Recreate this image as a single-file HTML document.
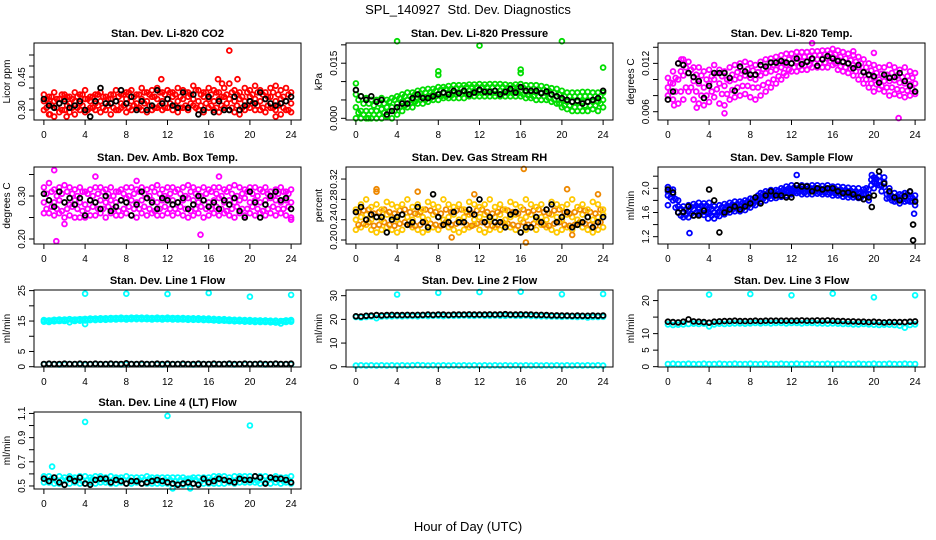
<!DOCTYPE html>
<html><head><meta charset="utf-8">
<style>
html,body{margin:0;padding:0;background:#fff;}
svg{display:block;font-family:"Liberation Sans",Arial,sans-serif;}
.ttl{font-weight:bold;font-size:11px;}
.tk{font-size:10px;}
</style></head>
<body>
<svg id="chart" width="936" height="540" viewBox="0 0 936 540" xmlns="http://www.w3.org/2000/svg">
<text x="468" y="14" text-anchor="middle" font-size="13">SPL_140927&#160; Std. Dev. Diagnostics</text>
<text x="468" y="531" text-anchor="middle" font-size="13">Hour of Day (UTC)</text>
</svg>
<script>
const hours=[0,0.5,1,1.5,2,2.5,3,3.5,4,4.5,5,5.5,6,6.5,7,7.5,8,8.5,9,9.5,10,10.5,11,11.5,12,12.5,13,13.5,14,14.5,15,15.5,16,16.5,17,17.5,18,18.5,19,19.5,20,20.5,21,21.5,22,22.5,23,23.5,24];
const hoursB=[0.25,0.75,1.25,1.75,2.25,2.75,3.25,3.75,4.25,4.75,5.25,5.75,6.25,6.75,7.25,7.75,8.25,8.75,9.25,9.75,10.25,10.75,11.25,11.75,12.25,12.75,13.25,13.75,14.25,14.75,15.25,15.75,16.25,16.75,17.25,17.75,18.25,18.75,19.25,19.75,20.25,20.75,21.25,21.75,22.25,22.75,23.25,23.75];
const xTicks=[0,4,8,12,16,20,24];

// CO2
const co2Lo=[.30,.28,.27,.29,.30,.29,.28,.30,.29,.31,.30,.29,.30,.28,.30,.31,.29,.30,.31,.30,.29,.30,.31,.30,.31,.30,.29,.31,.30,.32,.30,.29,.31,.30,.29,.31,.30,.29,.28,.30,.31,.30,.30,.29,.31,.30,.28,.30,.29];
const co2Mid=[.34,.33,.34,.33,.35,.33,.34,.33,.35,.34,.33,.34,.33,.35,.34,.33,.35,.34,.33,.35,.34,.36,.35,.34,.35,.36,.34,.35,.36,.35,.34,.36,.35,.34,.35,.36,.35,.34,.35,.34,.36,.35,.34,.35,.36,.34,.35,.34,.33];
const co2Hi=[.37,.36,.38,.35,.37,.36,.38,.37,.39,.36,.37,.38,.36,.37,.39,.37,.38,.39,.37,.40,.38,.39,.40,.38,.39,.38,.40,.39,.38,.41,.39,.38,.40,.39,.38,.40,.42,.39,.38,.40,.39,.41,.39,.38,.40,.41,.39,.40,.38];
const co2Q1=[.31,.32,.31,.30,.32,.31,.31,.32,.30,.31,.32,.31,.32,.31,.30,.32,.31,.32,.31,.33,.32,.31,.32,.31,.33,.32,.31,.32,.33,.31,.32,.33,.32,.31,.32,.33,.31,.32,.31,.32,.33,.32,.31,.32,.31,.32,.31,.30];
const co2Q3=[.35,.36,.35,.37,.36,.35,.36,.37,.35,.36,.37,.36,.35,.37,.36,.37,.38,.36,.37,.38,.37,.36,.38,.37,.38,.37,.36,.38,.37,.39,.37,.38,.37,.38,.36,.37,.38,.37,.36,.38,.37,.38,.37,.36,.38,.37,.36,.37];
const co2OutX=[18,11.4,16.9,18.8,17.3,0.6,2.2,22.5];
const co2OutY=[.57,.44,.44,.44,.42,.28,.27,.27];
const co2Black=[.35,.32,.31,.33,.34,.31,.32,.34,.30,.27,.34,.40,.33,.33,.34,.39,.33,.36,.30,.34,.30,.32,.39,.33,.35,.32,.31,.38,.31,.37,.28,.30,.36,.29,.34,.30,.30,.36,.30,.32,.34,.33,.38,.35,.33,.32,.33,.34,.36];

// Pressure
const prLo=[0,0,0,0,0,0,.0005,0,.001,.002,.003,.003,.004,.004,.0045,.005,.005,.0055,.0055,.0055,.0055,.0055,.006,.006,.006,.006,.006,.006,.006,.006,.006,.006,.006,.0055,.0055,.005,.005,.005,.0045,.004,.003,.0025,.002,.002,.002,.002,.0025,.002,.003];
const prMid=[.003,.002,.002,.002,.002,.0025,.003,.003,.004,.0045,.005,.005,.0055,.006,.006,.0065,.0065,.007,.007,.007,.007,.0072,.0075,.0075,.0075,.0075,.0075,.0075,.0075,.0075,.0075,.0075,.0075,.0072,.007,.007,.007,.0068,.0065,.006,.005,.0045,.0045,.0045,.0045,.0045,.0045,.0045,.005];
const prHi=[.0065,.006,.0055,.005,.005,.0055,.005,.0055,.006,.0065,.007,.007,.0075,.0078,.008,.008,.0085,.0085,.0088,.009,.009,.009,.0092,.0092,.0093,.0092,.0093,.0093,.0093,.0092,.009,.0092,.0093,.009,.009,.009,.0088,.0085,.0082,.008,.0075,.007,.007,.007,.0072,.0072,.007,.007,.007];
const prQ1=[.0015,.001,.001,.001,.001,.0015,.002,.002,.003,.0035,.004,.0045,.005,.005,.0055,.006,.006,.006,.0062,.0065,.0065,.0068,.0068,.0068,.0068,.0068,.0068,.0068,.0068,.0068,.0068,.0068,.0065,.0062,.006,.006,.006,.0055,.005,.004,.0035,.0035,.003,.003,.0035,.0035,.0035,.004];
const prQ3=[.005,.004,.004,.0035,.004,.004,.0045,.005,.0055,.006,.006,.0065,.0068,.007,.0072,.0075,.0078,.008,.008,.0082,.0082,.0085,.0085,.0085,.0085,.0085,.0085,.0085,.0085,.0083,.0085,.0085,.0083,.008,.008,.0078,.0078,.0075,.007,.0065,.006,.006,.006,.006,.006,.006,.006,.006];
const prOutX=[0,4,12,20,24,8,8,16,16,1.2];
const prOutY=[.0095,.021,.0198,.021,.0138,.0128,.0118,.0133,.0123,0];
const prBlack=[.0077,.006,.005,.006,.0045,.005,.001,.002,.003,.004,.004,.0055,.0065,.0055,.0055,.006,.0065,.007,.0065,.0075,.0068,.0075,.0065,.007,.0078,.0072,.0072,.0075,.0065,.0072,.008,.007,.0085,.0075,.0075,.0075,.0068,.0073,.0065,.006,.0055,.005,.0045,.0048,.004,.0045,.005,.0055,.0075];

// Temp
const tpLo=[.008,.0075,.007,.0075,.0085,.0075,.007,.0068,.0072,.0078,.007,.0068,.0075,.0078,.008,.0082,.0078,.0075,.008,.0085,.009,.0095,.01,.0105,.011,.011,.0112,.0112,.0115,.0115,.0115,.0115,.0118,.0112,.011,.0108,.0105,.01,.0095,.009,.0085,.0088,.0085,.008,.0082,.008,.0078,.008,.0082];
const tpMid=[.009,.0095,.01,.0105,.0108,.0098,.0095,.009,.0095,.01,.0095,.0092,.0098,.01,.0102,.0105,.0102,.01,.0105,.0108,.011,.0112,.0115,.0118,.012,.0122,.0122,.0123,.0125,.0125,.0126,.0126,.0128,.0125,.0122,.012,.0118,.0115,.011,.0105,.0102,.01,.0098,.0098,.0099,.0096,.0095,.0094,.0095];
const tpHi=[.0102,.011,.012,.0125,.0122,.0115,.0115,.011,.0112,.0118,.0112,.011,.0115,.0118,.012,.0122,.012,.0118,.0122,.0125,.0126,.0128,.013,.0132,.0132,.0134,.0134,.0134,.0135,.0135,.0136,.0136,.0138,.0136,.0134,.0132,.013,.0128,.0125,.012,.0118,.0115,.0115,.0118,.0115,.0112,.0115,.011,.0108];
const tpQ1=[.0085,.0085,.0085,.009,.009,.0085,.008,.008,.0085,.0088,.0082,.0082,.0087,.009,.0092,.0092,.009,.009,.0093,.0096,.01,.0104,.0108,.0112,.0115,.0116,.0117,.0118,.012,.012,.0121,.0123,.012,.0116,.0115,.0113,.011,.0105,.01,.0095,.0094,.0092,.009,.009,.0088,.0087,.0086,.0088];
const tpQ3=[.0096,.0102,.011,.0115,.0112,.0106,.0105,.01,.0104,.0108,.0104,.01,.0106,.0109,.0111,.0113,.0111,.0109,.0113,.0116,.0118,.012,.0122,.0125,.0126,.0128,.0128,.0129,.013,.013,.0131,.0132,.0131,.0128,.0126,.0124,.0122,.012,.0115,.0111,.0108,.0107,.0106,.0108,.0105,.0103,.0104,.0102];
const tpOutX=[22.4,14,18,20,1.3,0.6,5.5,2.8];
const tpOutY=[.0052,.0145,.0135,.0133,.0125,.0068,.0058,.0065];
const tpBlack=[.0075,.0085,.0120,.0118,.0108,.0103,.0098,.0077,.0092,.0108,.0108,.0108,.0102,.0086,.0116,.0110,.0106,.0106,.0118,.0116,.0121,.0121,.0123,.0121,.0120,.0126,.0119,.0122,.0126,.0117,.0125,.0129,.0126,.0123,.0122,.0120,.0114,.0118,.0109,.0106,.0104,.0096,.0106,.0102,.0103,.0108,.0098,.0092,.0085];

// Amb box temp
const abLo=[.26,.26,.255,.26,.25,.255,.25,.25,.25,.255,.255,.26,.25,.26,.255,.255,.26,.255,.25,.26,.255,.26,.255,.255,.26,.255,.26,.255,.25,.255,.26,.25,.255,.26,.255,.26,.255,.25,.26,.255,.26,.255,.26,.255,.26,.255,.26,.255,.25];
const abMid=[.285,.29,.285,.29,.285,.28,.29,.285,.28,.29,.285,.29,.285,.29,.285,.29,.295,.29,.285,.29,.295,.29,.285,.29,.295,.29,.285,.29,.295,.29,.285,.29,.285,.29,.295,.285,.29,.285,.29,.295,.285,.29,.285,.29,.295,.29,.285,.29,.285];
const abHi=[.32,.33,.315,.32,.325,.32,.315,.32,.31,.315,.32,.32,.315,.32,.31,.315,.32,.32,.315,.32,.315,.32,.325,.315,.32,.32,.315,.32,.325,.32,.315,.32,.315,.32,.32,.315,.32,.325,.32,.315,.32,.32,.315,.32,.31,.315,.32,.31,.315];
const abQ1=[.27,.275,.27,.265,.27,.275,.27,.265,.27,.275,.27,.27,.275,.27,.265,.27,.275,.27,.27,.275,.27,.265,.27,.275,.27,.27,.275,.27,.265,.27,.275,.27,.27,.275,.27,.265,.27,.275,.27,.27,.275,.27,.265,.27,.275,.27,.27,.275];
const abQ3=[.305,.31,.30,.305,.31,.305,.30,.31,.305,.30,.305,.31,.305,.30,.31,.305,.30,.305,.31,.305,.30,.31,.305,.30,.305,.31,.305,.30,.31,.305,.30,.305,.31,.305,.30,.31,.305,.30,.305,.31,.305,.30,.31,.305,.30,.305,.31,.305];
const abOutX=[1,1.2,15.2,5,2,9,17,24];
const abOutY=[.36,.195,.21,.345,.235,.335,.345,.245];
const abBlack=[.305,.29,.275,.31,.285,.295,.28,.295,.255,.29,.285,.27,.3,.265,.275,.29,.285,.255,.28,.31,.295,.285,.27,.295,.29,.28,.285,.295,.27,.28,.3,.29,.275,.285,.27,.29,.28,.295,.265,.25,.31,.285,.25,.28,.3,.31,.29,.295,.27];

// RH
const rhLo=[.22,.225,.23,.22,.215,.22,.225,.22,.215,.22,.23,.225,.22,.215,.22,.225,.22,.23,.225,.22,.215,.22,.225,.23,.22,.215,.22,.225,.22,.23,.225,.22,.215,.22,.225,.22,.23,.225,.22,.215,.22,.225,.22,.23,.225,.22,.215,.22,.225];
const rhMid=[.24,.245,.25,.24,.245,.24,.25,.245,.24,.25,.245,.24,.25,.245,.24,.25,.245,.24,.245,.25,.24,.245,.25,.24,.245,.25,.24,.245,.25,.24,.245,.25,.24,.245,.25,.24,.245,.24,.25,.245,.24,.25,.245,.24,.25,.245,.24,.245,.25];
const rhHi=[.26,.27,.28,.265,.27,.26,.275,.27,.265,.27,.28,.265,.27,.26,.275,.27,.265,.28,.27,.265,.27,.26,.275,.27,.265,.27,.28,.265,.27,.26,.275,.27,.265,.28,.27,.265,.27,.26,.275,.27,.265,.27,.28,.265,.27,.26,.275,.27,.26];
const rhQ1=[.23,.232,.235,.228,.23,.235,.23,.228,.232,.235,.23,.228,.23,.235,.232,.23,.228,.235,.23,.232,.235,.23,.228,.232,.235,.23,.228,.23,.235,.232,.23,.228,.235,.23,.232,.235,.23,.228,.232,.235,.23,.228,.23,.235,.232,.23,.228,.235];
const rhQ3=[.255,.258,.26,.252,.255,.26,.255,.252,.258,.26,.255,.252,.255,.26,.258,.255,.252,.26,.255,.258,.26,.255,.252,.258,.26,.255,.252,.255,.26,.258,.255,.252,.26,.255,.258,.26,.255,.252,.258,.26,.255,.252,.255,.26,.258,.255,.252,.26];
const rhOutX=[2,2,6,16.3,11.5,20.5,23.5,16.5,9.3,21];
const rhOutY=[.30,.295,.295,.34,.29,.30,.29,.195,.205,.21];
const rhBlack=[.255,.265,.24,.25,.245,.245,.215,.24,.245,.25,.23,.235,.265,.235,.225,.29,.245,.23,.235,.255,.235,.235,.26,.25,.28,.235,.245,.235,.235,.225,.25,.255,.215,.225,.225,.245,.235,.26,.27,.235,.245,.255,.225,.23,.235,.245,.225,.235,.245];

// Sample flow
const sfLo=[1.88,1.8,1.6,1.52,1.52,1.55,1.58,1.56,1.58,1.5,1.54,1.57,1.6,1.62,1.62,1.64,1.68,1.72,1.78,1.8,1.83,1.84,1.86,1.88,1.9,1.92,1.9,1.9,1.9,1.91,1.9,1.9,1.88,1.88,1.86,1.85,1.85,1.84,1.82,1.8,2.0,2.05,2.02,1.84,1.78,1.75,1.78,1.78,1.72];
const sfMid=[1.95,1.9,1.7,1.6,1.62,1.65,1.68,1.66,1.68,1.6,1.62,1.65,1.68,1.7,1.7,1.72,1.75,1.78,1.85,1.88,1.9,1.9,1.92,1.95,1.97,1.98,1.98,1.97,1.98,1.98,1.97,1.98,1.96,1.96,1.95,1.94,1.93,1.92,1.9,1.9,2.1,2.12,2.1,1.92,1.85,1.82,1.85,1.86,1.8];
const sfHi=[2.02,1.98,1.8,1.7,1.72,1.74,1.76,1.75,1.76,1.7,1.72,1.74,1.76,1.78,1.78,1.8,1.83,1.85,1.92,1.95,1.97,1.97,2.0,2.03,2.05,2.05,2.05,2.04,2.05,2.05,2.04,2.05,2.03,2.03,2.02,2.01,2.0,2.0,1.98,1.98,2.18,2.2,2.18,2.0,1.92,1.9,1.92,1.94,1.88];
const sfQ1=[1.85,1.68,1.55,1.56,1.58,1.6,1.6,1.6,1.55,1.56,1.6,1.62,1.65,1.66,1.67,1.7,1.74,1.8,1.83,1.86,1.87,1.88,1.91,1.93,1.94,1.94,1.93,1.94,1.94,1.93,1.93,1.92,1.91,1.9,1.89,1.88,1.87,1.85,1.9,2.05,2.08,1.95,1.83,1.8,1.8,1.81,1.8,1.78];
const sfQ3=[1.97,1.82,1.66,1.65,1.69,1.71,1.71,1.71,1.66,1.66,1.69,1.71,1.73,1.74,1.76,1.78,1.82,1.88,1.91,1.93,1.94,1.96,1.98,2.0,2.01,2.01,2.0,2.01,2.01,2.0,2.0,1.99,1.99,1.98,1.97,1.96,1.95,1.94,2.0,2.14,2.15,2.04,1.9,1.87,1.87,1.89,1.9,1.84];
const sfOutX=[2.1,3.9,23.9,12.5,19.8,0];
const sfOutY=[1.26,1.5,1.58,2.22,2.22,1.72];
const sfBlack=[1.98,1.93,1.6,1.61,1.7,1.55,1.55,1.63,1.98,1.8,1.27,1.6,1.65,1.7,1.65,1.7,1.75,1.85,1.75,1.88,1.95,1.88,1.88,1.85,1.85,2.05,2.03,2.03,1.95,2.0,1.98,2.0,2.0,1.95,1.92,1.93,1.9,1.85,1.82,1.85,1.88,2.28,2.08,1.95,1.85,1.8,1.87,1.95,1.78];
const sfBlackExX=[23.8,23.8,19.8];
const sfBlackExY=[1.4,1.14,1.69];

// Line 1
const l1Hi=[15.3,15.2,15.4,15.5,15.5,15.6,15.5,15.6,15.7,15.8,15.8,15.9,15.9,16,16,16.1,16,16.1,16.1,16.1,16.1,16,16.1,16,16.1,16,16,16,15.9,15.9,15.9,15.8,15.8,15.7,15.6,15.6,15.5,15.4,15.4,15.3,15.3,15.2,15.2,15.2,15.1,15.1,15.0,15.2,15.3];
const l1Lo=[14.8,14.7,14.9,15,15,14.6,15,15.1,15.2,15.3,15.3,15.4,15.4,15.5,15.5,15.6,15.5,15.6,15.6,15.6,15.6,15.5,15.6,15.5,15.6,15.5,15.5,15.5,15.4,15.4,15.4,15.3,15.3,15.2,15.1,15.1,15,14.9,14.9,14.8,14.8,14.7,14.7,14.7,14.6,14.5,14.2,14.7,14.8];
const l1Mid=[15.0,15.1,15.2,15.2,15.3,15.3,15.4,15.5,15.5,15.6,15.6,15.7,15.7,15.8,15.8,15.8,15.8,15.9,15.9,15.8,15.8,15.8,15.8,15.8,15.8,15.8,15.7,15.7,15.7,15.6,15.6,15.5,15.4,15.4,15.3,15.2,15.2,15.1,15.1,15,15,15,14.9,14.9,14.8,14.7,14.9,15.0];
const l1Base=[0.8,0.9,0.8,0.7,0.8,0.9,0.8,0.8,0.7,0.8,0.9,0.8,0.8,0.9,0.8,0.7,0.8,0.9,0.8,0.8,0.8,0.9,0.8,0.7,0.8,0.8,0.9,0.8,0.8,0.7,0.8,0.9,0.8,0.8,0.8,0.9,0.8,0.7,0.8,0.8,0.9,0.8,0.8,0.7,0.8,0.9,0.8,0.8,0.8];
const l1OutX=[4,8,12,16,20,24,4];
const l1OutY=[24,24,23.9,24.2,23,23.6,14];
const l1Black=[0.9,1.0,0.9,0.9,1.0,0.9,0.9,1.0,0.9,0.9,1.0,0.9,0.9,1.0,0.9,0.9,1.1,0.9,0.9,1.0,0.9,0.9,1.0,0.9,1.0,0.9,0.9,1.0,0.9,0.9,1.0,0.9,0.9,1.0,0.9,0.9,1.0,0.9,0.9,1.0,0.9,0.9,1.0,0.9,0.9,1.0,0.9,0.9,1.0];

// Line 2
const l2Cyan=[21,20.8,21,21.2,20.5,21.2,21.3,21.3,21.4,21.3,21.4,21.4,21.3,21.5,21.4,21.5,21.5,21.4,21.5,21.5,21.5,21.6,21.5,21.5,21.6,21.5,21.5,21.6,21.5,21.5,21.6,21.5,21.5,21.6,21.4,21.4,21.3,21.3,21.2,21.2,21.1,21.2,21.1,21,21.1,20.8,21,21,21.1];
const l2Base=[0.5,0.6,0.5,0.6,0.5,0.6,0.5,0.6,0.5,0.6,0.5,0.6,0.7,0.6,0.5,0.6,0.5,0.6,0.5,0.6,0.5,0.6,0.5,0.6,0.5,0.6,0.5,0.6,0.5,0.6,0.5,0.6,0.5,0.6,0.5,0.6,0.5,0.6,0.5,0.6,0.5,0.6,0.5,0.6,0.5,0.6,0.5,0.6,0.5];
const l2OutX=[4,8,12,16,20,24];
const l2OutY=[30.5,31.2,31.5,31.7,30.6,30.7];
const l2Black=[21.3,21.2,21.5,21.6,21.8,21.7,21.8,21.9,21.8,21.8,21.9,21.8,21.9,21.9,22,21.9,22,22,21.9,22,22,22,22.1,22,22,22,22.1,22,22.1,22.2,22,22,22.1,22,22,21.9,21.9,21.8,21.7,21.7,21.6,21.6,21.5,21.6,21.5,21.5,21.6,21.5,21.6];

// Line 3
const l3Cyan=[12.8,12.6,12.7,12.8,12.9,13,12.9,13,12.2,12.8,13,12.9,13,13.1,13.1,13,13.1,13.2,13.1,13.2,13.1,13.2,13.2,13.1,13.2,13.2,13.1,13.2,13.2,13.1,13.1,13,13.1,13,12.9,12.9,12.8,12.8,12.9,12.8,12.7,12.6,12.7,12.7,12.6,12.4,11.8,12.6,12.8];
const l3Base=[0.8,0.9,0.8,0.8,0.9,0.8,0.8,0.9,0.8,0.8,0.9,0.8,0.8,0.9,0.8,0.8,0.9,0.8,0.8,0.9,0.8,0.8,0.9,0.8,0.8,0.9,0.8,0.8,0.9,0.8,0.8,0.9,0.8,0.8,0.9,0.8,0.8,0.9,0.8,0.8,0.9,0.8,0.8,0.9,0.8,0.8,0.9,0.8,0.8];
const l3OutX=[4,8,12,16,20,24];
const l3OutY=[21.8,22,21.6,22.1,21,21.6];
const l3Black=[13.6,13.5,13.4,13.6,14.3,13.7,13.6,13.5,13.3,13.6,13.7,13.8,13.8,13.9,13.8,13.8,13.8,13.9,13.8,13.9,13.9,13.9,13.9,13.9,13.9,13.9,14,13.9,13.9,14,13.9,14,13.9,13.8,13.8,13.7,13.7,13.6,13.6,13.5,13.6,13.5,13.4,13.5,13.5,13.5,13.5,13.6,13.7];

// Line 4
const l4Hi=[.58,.58,.57,.58,.57,.58,.57,.58,.58,.57,.58,.58,.57,.58,.57,.57,.58,.57,.57,.57,.58,.57,.57,.57,.57,.57,.57,.57,.56,.57,.57,.57,.57,.58,.58,.58,.57,.58,.58,.58,.58,.58,.58,.58,.57,.58,.57,.57,.58];
const l4Lo=[.53,.53,.52,.52,.51,.52,.53,.52,.52,.53,.52,.53,.53,.52,.52,.53,.52,.52,.53,.52,.52,.52,.52,.52,.52,.52,.52,.51,.52,.52,.52,.52,.52,.52,.52,.52,.53,.52,.53,.53,.53,.53,.52,.53,.52,.53,.52,.53,.52];
const l4Mid=[.55,.56,.54,.55,.55,.56,.55,.54,.55,.56,.55,.55,.54,.55,.56,.55,.55,.54,.55,.55,.56,.55,.54,.55,.55,.54,.55,.55,.56,.55,.54,.55,.55,.56,.55,.55,.54,.55,.56,.55,.55,.54,.55,.55,.56,.55,.54,.55];
const l4OutX=[4,12,20,0.8,12.5,14.2];
const l4OutY=[1.03,1.08,1.0,.66,.48,.48];
const l4Black=[.56,.54,.57,.53,.51,.56,.54,.57,.52,.51,.55,.56,.56,.53,.55,.54,.52,.54,.54,.52,.53,.54,.55,.54,.53,.52,.51,.52,.53,.52,.51,.56,.53,.54,.56,.55,.54,.53,.56,.55,.55,.58,.57,.52,.57,.56,.56,.55,.53];

const panels=[
 {name:'co2',title:'Stan. Dev. Li-820 CO2',ylab:'Licor ppm',col:0,row:0,lo:.2545,hi:.6045,ticks:[.30,.35,.40,.45,.50,.55],labels:['0.30','','','0.45','',''],
  series:[[hours,co2Lo,'#ff0000'],[hoursB,co2Q1,'#ff0000'],[hours,co2Mid,'#ff0000'],[hoursB,co2Q3,'#ff0000'],[hours,co2Hi,'#ff0000'],[co2OutX,co2OutY,'#ff0000'],[hours,co2Black,'#000']]},
 {name:'pressure',title:'Stan. Dev. Li-820 Pressure',ylab:'kPa',col:1,row:0,lo:-.00046,hi:.0205,ticks:[0,.005,.01,.015,.02],labels:['0.000','','','0.015',''],
  series:[[hours,prLo,'#00dd00'],[hoursB,prQ1,'#00dd00'],[hours,prMid,'#00dd00'],[hoursB,prQ3,'#00dd00'],[hours,prHi,'#00dd00'],[prOutX,prOutY,'#00dd00'],[hours,prBlack,'#000']]},
 {name:'temp',title:'Stan. Dev. Li-820 Temp.',ylab:'degrees C',col:2,row:0,lo:.00497,hi:.01453,ticks:[.006,.008,.010,.012,.014],labels:['0.006','','','0.012',''],
  series:[[hours,tpLo,'#ff00ff'],[hoursB,tpQ1,'#ff00ff'],[hours,tpMid,'#ff00ff'],[hoursB,tpQ3,'#ff00ff'],[hours,tpHi,'#ff00ff'],[tpOutX,tpOutY,'#ff00ff'],[hours,tpBlack,'#000']]},
 {name:'amb-box-temp',title:'Stan. Dev. Amb. Box Temp.',ylab:'degrees C',col:0,row:1,lo:.1884,hi:.3674,ticks:[.20,.25,.30,.35],labels:['0.20','','0.30',''],
  series:[[hours,abLo,'#ff00ff'],[hoursB,abQ1,'#ff00ff'],[hours,abMid,'#ff00ff'],[hoursB,abQ3,'#ff00ff'],[hours,abHi,'#ff00ff'],[abOutX,abOutY,'#ff00ff'],[hours,abBlack,'#000']]},
 {name:'gas-rh',title:'Stan. Dev. Gas Stream RH',ylab:'percent',col:1,row:1,lo:.1921,hi:.3437,ticks:[.20,.24,.28,.32],labels:['0.20','0.24','0.28','0.32'],small:true,
  series:[[hours,rhLo,'#ffc800'],[hoursB,rhQ1,'#ee8800'],[hours,rhMid,'#ffc800'],[hoursB,rhQ3,'#ee8800'],[hours,rhHi,'#ffc800'],[rhOutX,rhOutY,'#ee8800'],[hours,rhBlack,'#000']]},
 {name:'sample-flow',title:'Stan. Dev. Sample Flow',ylab:'ml/min',col:2,row:1,lo:1.079,hi:2.352,ticks:[1.2,1.4,1.6,1.8,2.0,2.2],labels:['1.2','','1.6','','2.0',''],
  series:[[hours,sfLo,'#0000ff'],[hoursB,sfQ1,'#0000ff'],[hours,sfMid,'#0000ff'],[hoursB,sfQ3,'#0000ff'],[hours,sfHi,'#0000ff'],[sfOutX,sfOutY,'#0000ff'],[hours,sfBlack,'#000'],[sfBlackExX,sfBlackExY,'#000']]},
 {name:'line1-flow',title:'Stan. Dev. Line 1 Flow',ylab:'ml/min',col:0,row:2,lo:-.1,hi:25.2,ticks:[0,5,10,15,20,25],labels:['0','5','','15','','25'],
  series:[[hours,l1Lo,'#00ffff'],[hoursB,l1Mid,'#00ffff'],[hours,l1Hi,'#00ffff'],[hours,l1Base,'#00ffff'],[l1OutX,l1OutY,'#00ffff'],[hours,l1Black,'#000']]},
 {name:'line2-flow',title:'Stan. Dev. Line 2 Flow',ylab:'ml/min',col:1,row:2,lo:-.1,hi:32.4,ticks:[0,10,20,30],labels:['0','10','20','30'],
  series:[[hours,l2Cyan,'#00ffff'],[hours,l2Base,'#00ffff'],[l2OutX,l2OutY,'#00ffff'],[hours,l2Black,'#000']]},
 {name:'line3-flow',title:'Stan. Dev. Line 3 Flow',ylab:'ml/min',col:2,row:2,lo:-.1,hi:23.2,ticks:[0,5,10,15,20],labels:['0','5','10','','20'],
  series:[[hours,l3Cyan,'#00ffff'],[hours,l3Base,'#00ffff'],[l3OutX,l3OutY,'#00ffff'],[hours,l3Black,'#000']]},
 {name:'line4-flow',title:'Stan. Dev. Line 4 (LT) Flow',ylab:'ml/min',col:0,row:3,lo:.475,hi:1.112,ticks:[.5,.6,.7,.8,.9,1.0,1.1],labels:['0.5','','0.7','','0.9','','1.1'],
  series:[[hours,l4Lo,'#00ffff'],[hoursB,l4Mid,'#00ffff'],[hours,l4Hi,'#00ffff'],[l4OutX,l4OutY,'#00ffff'],[hours,l4Black,'#000']]}
];

const svg=document.getElementById('chart');
const NS='http://www.w3.org/2000/svg';
const colLeft=[34,346,658], rowTop=[43,167,290,412], W=267, H=77;
function mk(tag,attrs,parent){const e=document.createElementNS(NS,tag);for(const k in attrs)e.setAttribute(k,attrs[k]);parent.appendChild(e);return e;}

panels.forEach(p=>{
  const L=colLeft[p.col], T=rowTop[p.row];
  const g=mk('g',{},svg);
  
  
  const xPad=24*0.04;
  const xs=h=>L+(h+xPad)/(24+2*xPad)*W;
  const ys=v=>T+H-(v-p.lo)/(p.hi-p.lo)*H;
  const t=mk('text',{x:L+W/2,y:T-6,'text-anchor':'middle','class':'ttl'},g);
  t.textContent=p.title;
  
  
  const yl=mk('text',{x:0,y:0,'text-anchor':'middle','font-size':'10',transform:`translate(${L-24},${T+H/2}) rotate(-90)`},g);
  yl.textContent=p.ylab;
  
  
  const pg=mk('g',{fill:'none','stroke-width':'1.8'},g);
  
  
  p.series.forEach(s=>{
    const xa=s[0], ya=s[1];
    for(let i=0;i<ya.length;i++){
      const c=mk('circle',{cx:xs(xa[i]).toFixed(1),cy:ys(ya[i]).toFixed(1),r:'2.4',stroke:s[2]},pg);
      
      
    }
  });
  const box=mk('rect',{x:L,y:T,width:W,height:H,fill:'none',stroke:'#000','stroke-width':'1'},g);
  
  
  xTicks.forEach(h=>{
    const x=xs(h);
    mk('line',{x1:x,x2:x,y1:T+H,y2:T+H+5,stroke:'#000'},g);
    const tl=mk('text',{x:x,y:T+H+18,'text-anchor':'middle','class':'tk'},g);
    tl.textContent=h;
    
    
  });
  p.ticks.forEach((v,i)=>{
    const y=ys(v);
    mk('line',{x1:L-5,x2:L,y1:y,y2:y,stroke:'#000'},g);
    if(p.labels[i]){
      const tl=mk('text',{x:0,y:0,'text-anchor':'middle','class':'tk','font-size':p.small?'9':'10',transform:`translate(${L-9},${y}) rotate(-90)`},g);
      tl.textContent=p.labels[i];
      
      
    }
  });
});
</script>
</body></html>
